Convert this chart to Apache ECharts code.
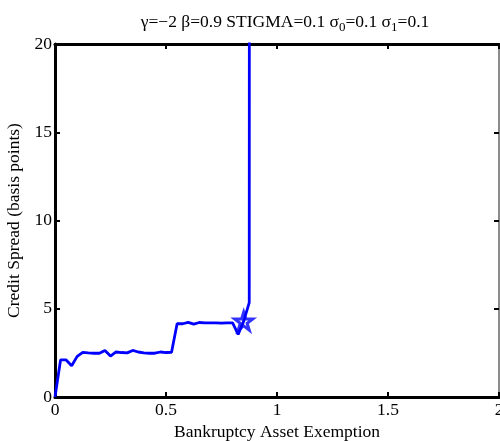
<!DOCTYPE html>
<html>
<head>
<meta charset="utf-8">
<style>
  html, body { margin: 0; padding: 0; background: #fff; }
  #chart { width: 500px; height: 441px; }
</style>
</head>
<body>
<div id="chart"></div>
<script src="https://cdn.jsdelivr.net/npm/echarts@6/dist/echarts.min.js"></script>
<script>
  // exemption levels and credit spread (basis points)
  const exemption = [0, 0.025, 0.05, 0.075, 0.1, 0.125, 0.15, 0.175, 0.2, 0.225,
    0.25, 0.275, 0.3, 0.325, 0.35, 0.375, 0.4, 0.425, 0.45, 0.475,
    0.5, 0.525, 0.55, 0.575, 0.6, 0.625, 0.65, 0.675, 0.7, 0.725,
    0.75, 0.775, 0.8, 0.825, 0.85, 0.875, 0.9];
  const spread = [0, 2.1, 2.1, 1.77, 2.3, 2.53, 2.5, 2.48, 2.48, 2.64,
    2.32, 2.55, 2.52, 2.5, 2.64, 2.55, 2.5, 2.48, 2.48, 2.55,
    2.52, 2.53, 4.15, 4.15, 4.23, 4.13, 4.22, 4.2, 4.2, 4.2,
    4.18, 4.2, 4.2, 3.55, 4.3, 5.35, 1000];
  // the marked point (star)
  const marked = [[0.85, 4.3]];

  const xTicks = ['0', '0.5', '1', '1.5', '2'];

  const font = 'Liberation Serif';
  const fs = 17.5;
  const starPath = 'path://M50,0 L61.8,36.3 L100,36.3 L69.1,58.8 L80.9,95.1 L50,72.7 L19.1,95.1 L30.9,58.8 L0,36.3 L38.2,36.3 Z';

  const chart = echarts.init(document.getElementById('chart'));

  const axisLine = { show: true, onZero: false, lineStyle: { color: '#000', width: 3 } };
  const tickIn = { show: true, inside: true, length: 5, lineStyle: { color: '#000', width: 2 } };

  chart.setOption({
    animation: false,
    title: {
      text: 'γ=−2 β=0.9 STIGMA=0.1 σ{sub|0}=0.1 σ{sub|1}=0.1',
      left: 280,
      textAlign: 'center',
      top: 5,
      textStyle: {
        fontFamily: font,
        fontSize: fs,
        fontWeight: 'normal',
        color: '#000',
        rich: {
          sub: { fontFamily: font, fontSize: 13, color: '#000', padding: [11, 0, 0, 0] }
        }
      }
    },
    grid: { left: 55, right: 1, top: 44, bottom: 44, containLabel: false, outerBoundsMode: 'none' },
    xAxis: [
      {
        type: 'value', min: 0, max: 2, interval: 0.5,
        name: 'Bankruptcy Asset Exemption',
        nameLocation: 'middle', nameGap: 21,
        nameTextStyle: { fontFamily: font, fontSize: fs, color: '#000' },
        axisLine: axisLine, axisTick: tickIn,
        axisLabel: {
          fontFamily: font, fontSize: fs, color: '#000', margin: 4,
          formatter: v => xTicks[Math.round(v / 0.5)]
        },
        splitLine: { show: false }
      },
      {
        type: 'value', min: 0, max: 2, interval: 0.5, position: 'top',
        axisLine: axisLine, axisTick: tickIn,
        axisLabel: { show: false }, splitLine: { show: false }
      }
    ],
    yAxis: [
      {
        type: 'value', min: 0, max: 20, interval: 5,
        name: 'Credit Spread (basis points)',
        nameLocation: 'middle', nameGap: 24,
        nameTextStyle: { fontFamily: font, fontSize: fs, color: '#000' },
        axisLine: axisLine, axisTick: tickIn,
        axisLabel: { fontFamily: font, fontSize: fs, color: '#000', margin: 3 },
        splitLine: { show: false }
      },
      {
        type: 'value', min: 0, max: 20, interval: 5, position: 'right',
        axisLine: { show: true, onZero: false, lineStyle: { color: '#666', width: 1.5 } },
        axisTick: tickIn,
        axisLabel: { show: false }, splitLine: { show: false }
      }
    ],
    series: [
      {
        type: 'line',
        data: exemption.map((x, i) => [x, spread[i]]),
        showSymbol: false,
        clip: true,
        lineStyle: { color: '#0000ff', width: 2.8 }
      },
      {
        type: 'scatter',
        data: marked,
        symbol: starPath,
        symbolSize: 18,
        itemStyle: { color: 'rgba(0,0,0,0)', borderColor: '#0000ff', borderWidth: 3 },
        z: 3
      }
    ]
  });
</script>
</body>
</html>
